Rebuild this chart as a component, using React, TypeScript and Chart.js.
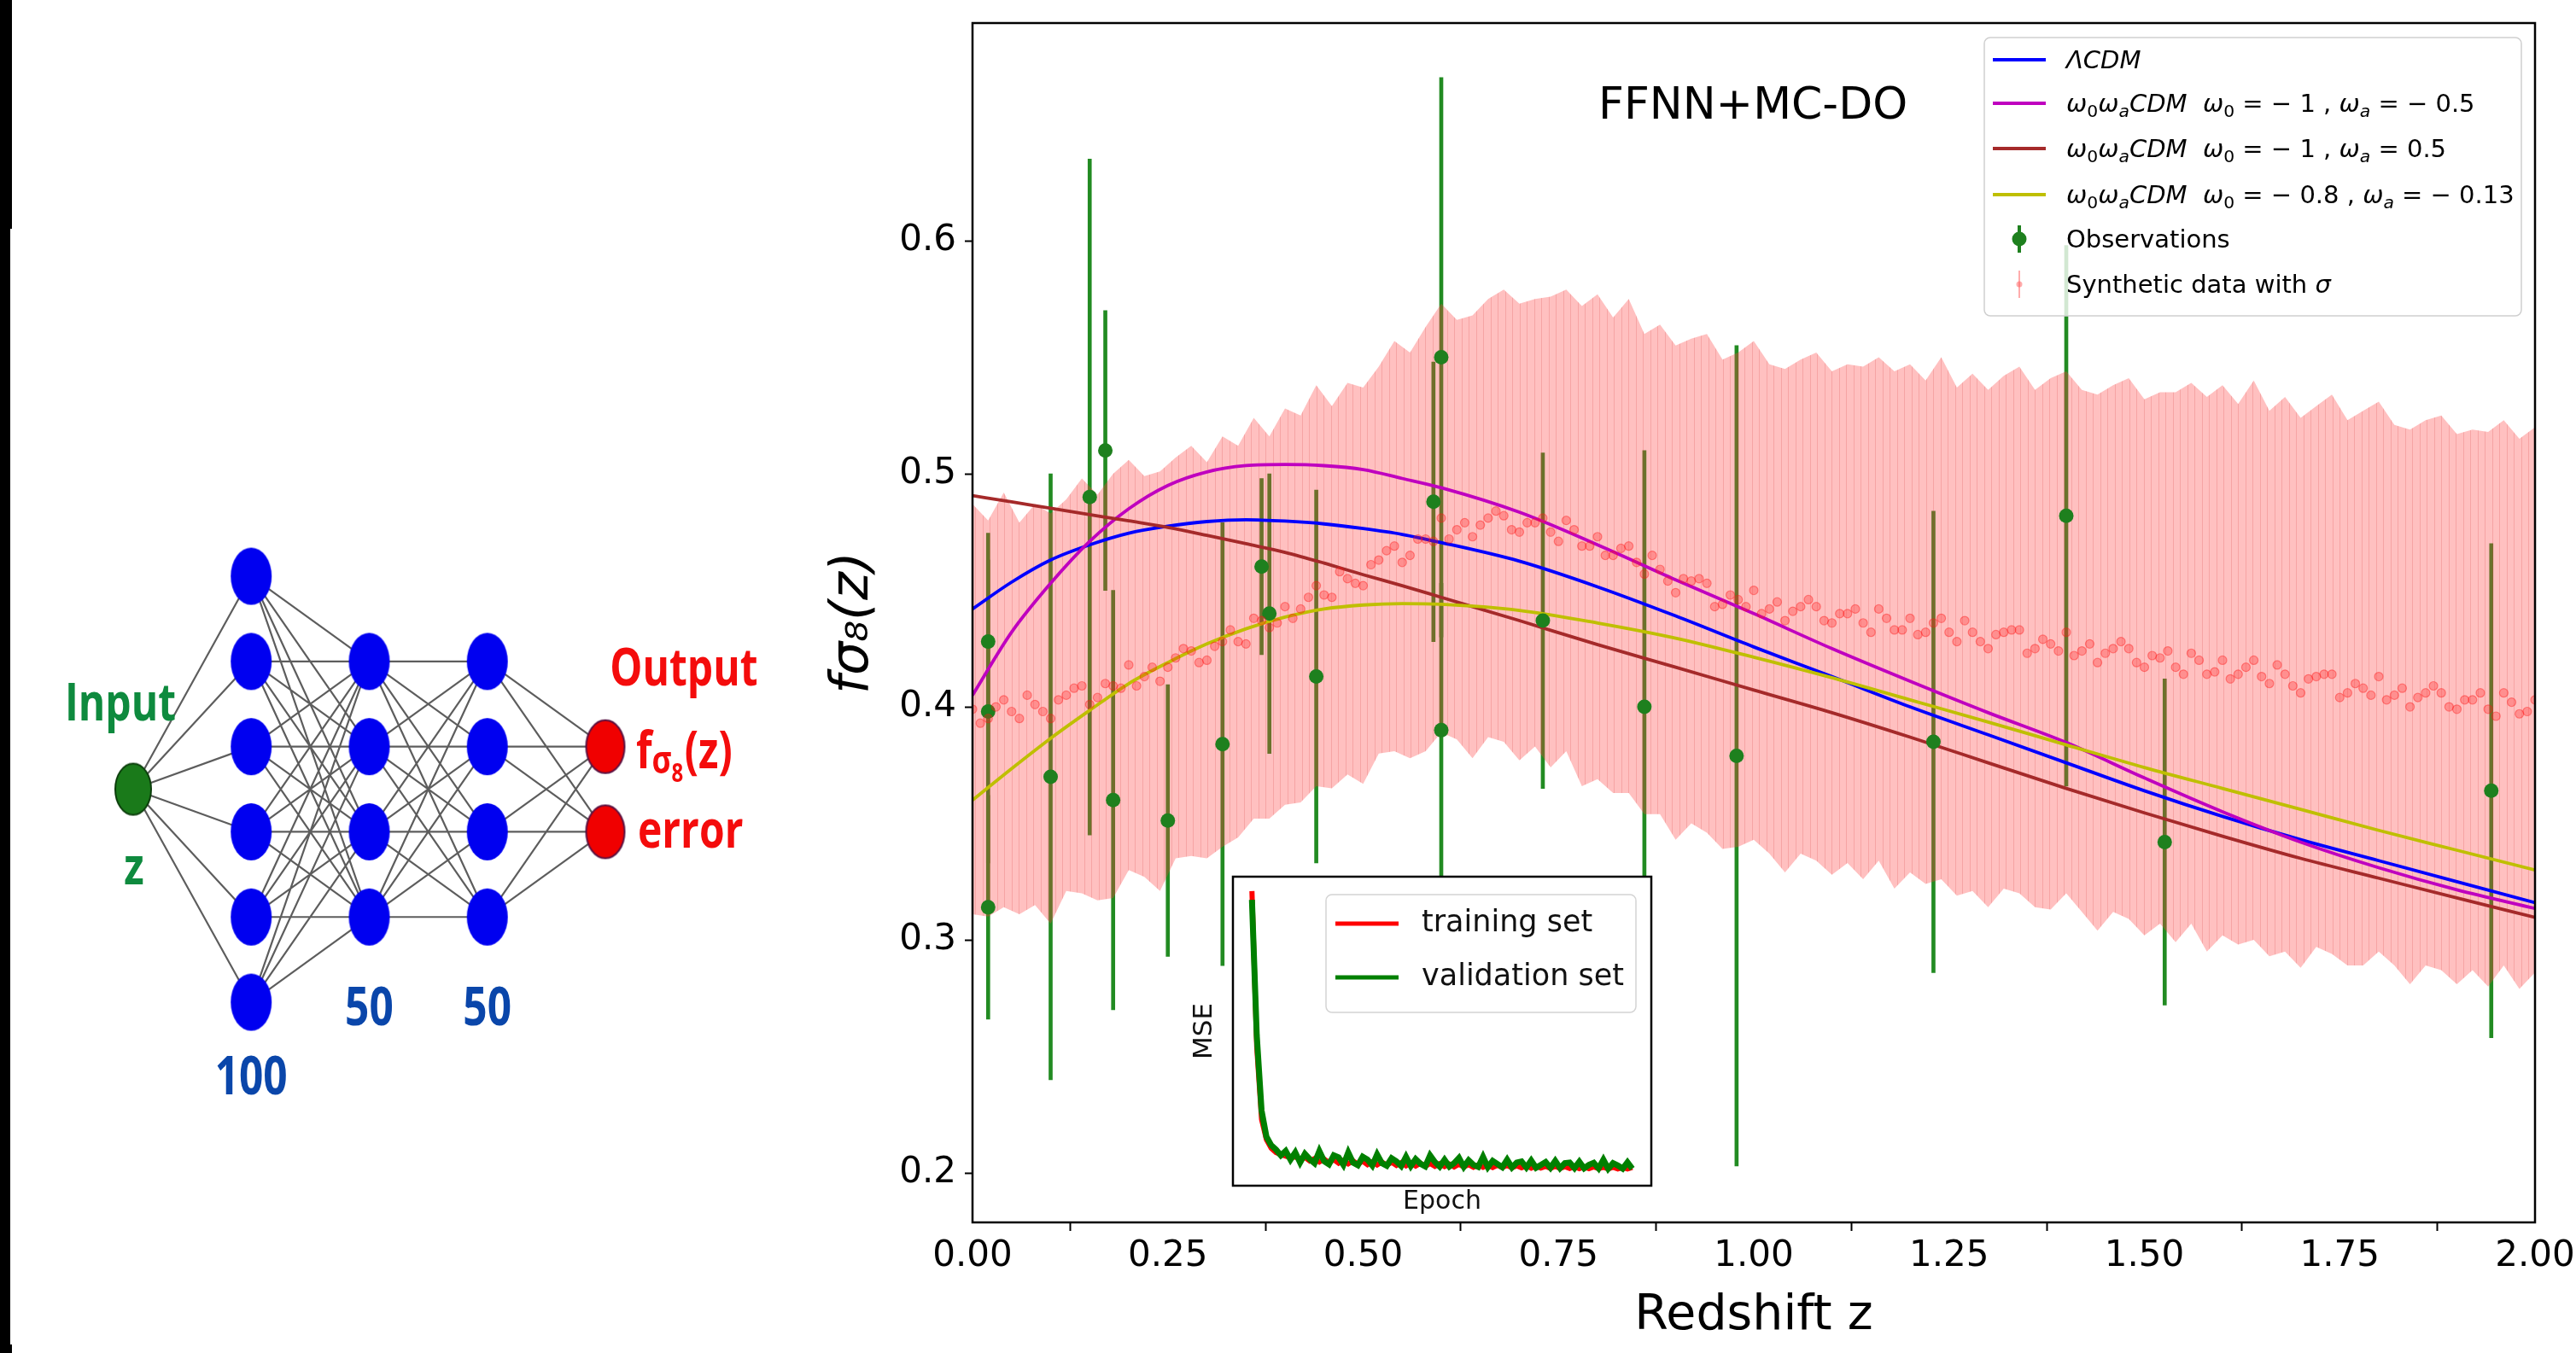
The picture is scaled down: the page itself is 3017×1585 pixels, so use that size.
import React, { useEffect, useRef } from 'react';
import { Chart, registerables } from 'chart.js';

Chart.register(...registerables);

// ---------------- data ----------------
// Observed f sigma8(z) compilation
const OBS_Z = [0.02, 0.02, 0.02, 0.10, 0.15, 0.17, 0.18, 0.25, 0.32, 0.37, 0.38, 0.44, 0.59, 0.60, 0.60, 0.73, 0.86, 0.978, 1.23, 1.40, 1.526, 1.944];
const OBS_F = [0.428, 0.398, 0.314, 0.370, 0.490, 0.510, 0.360, 0.3512, 0.384, 0.4602, 0.440, 0.413, 0.488, 0.550, 0.390, 0.437, 0.400, 0.379, 0.385, 0.482, 0.342, 0.364];
const OBS_ERR = [0.0465, 0.065, 0.048, 0.130, 0.145, 0.060, 0.090, 0.0583, 0.095, 0.0378, 0.060, 0.080, 0.060, 0.120, 0.063, 0.072, 0.110, 0.176, 0.099, 0.116, 0.070, 0.106];

// Theoretical curves
const CURVE_Z = [0, 0.05, 0.1, 0.15, 0.2, 0.25, 0.3, 0.35, 0.4, 0.45, 0.5, 0.55, 0.6, 0.7, 0.8, 0.9, 1.0, 1.1, 1.2, 1.3, 1.4, 1.5, 1.6, 1.7, 1.8, 1.9, 2.0];
const LCDM = [0.442, 0.4535, 0.463, 0.4695, 0.4745, 0.4775, 0.4795, 0.4803, 0.4797, 0.4785, 0.4765, 0.474, 0.4705, 0.4625, 0.4515, 0.439, 0.4257, 0.413, 0.400, 0.388, 0.376, 0.364, 0.353, 0.343, 0.334, 0.325, 0.316];
const W1_M05 = [0.405, 0.432, 0.453, 0.471, 0.485, 0.495, 0.5008, 0.5035, 0.504, 0.5035, 0.5018, 0.498, 0.494, 0.4835, 0.4695, 0.4545, 0.440, 0.425, 0.411, 0.3975, 0.3847, 0.3695, 0.355, 0.342, 0.331, 0.3215, 0.3135];
const W1_P05 = [0.4906, 0.488, 0.4852, 0.4825, 0.4798, 0.477, 0.4736, 0.470, 0.4663, 0.4617, 0.4567, 0.452, 0.447, 0.437, 0.4267, 0.417, 0.4072, 0.3975, 0.387, 0.376, 0.365, 0.3545, 0.3445, 0.335, 0.3265, 0.318, 0.3097];
const W08_M013 = [0.360, 0.3735, 0.3865, 0.3985, 0.410, 0.419, 0.427, 0.4335, 0.4385, 0.442, 0.4437, 0.4443, 0.444, 0.4414, 0.436, 0.4295, 0.4213, 0.4125, 0.403, 0.3935, 0.3837, 0.374, 0.365, 0.356, 0.347, 0.3385, 0.330];

// Synthetic data (FFNN + MC-DO) with sigma
const SYN_Z = [
  0.00, 0.02, 0.04, 0.06, 0.08, 0.10, 0.12, 0.14, 0.16, 0.18,
  0.20, 0.22, 0.24, 0.26, 0.28, 0.30, 0.32, 0.34, 0.36, 0.38,
  0.40, 0.42, 0.44, 0.46, 0.48, 0.50, 0.52, 0.54, 0.56, 0.58,
  0.60, 0.62, 0.64, 0.66, 0.68, 0.70, 0.72, 0.74, 0.76, 0.78,
  0.80, 0.82, 0.84, 0.86, 0.88, 0.90, 0.92, 0.94, 0.96, 0.98,
  1.00, 1.02, 1.04, 1.06, 1.08, 1.10, 1.12, 1.14, 1.16, 1.18,
  1.20, 1.22, 1.24, 1.26, 1.28, 1.30, 1.32, 1.34, 1.36, 1.38,
  1.40, 1.42, 1.44, 1.46, 1.48, 1.50, 1.52, 1.54, 1.56, 1.58,
  1.60, 1.62, 1.64, 1.66, 1.68, 1.70, 1.72, 1.74, 1.76, 1.78,
  1.80, 1.82, 1.84, 1.86, 1.88, 1.90, 1.92, 1.94, 1.96, 1.98,
  2.00,
];
const SYN_MEAN = [
  0.399, 0.395, 0.403, 0.395, 0.401, 0.395, 0.405, 0.409, 0.404, 0.409,
  0.418, 0.413, 0.411, 0.421, 0.424, 0.420, 0.428, 0.428, 0.438, 0.434,
  0.443, 0.442, 0.452, 0.447, 0.455, 0.452, 0.463, 0.469, 0.465, 0.472,
  0.481, 0.476, 0.473, 0.481, 0.482, 0.475, 0.479, 0.475, 0.480, 0.469,
  0.473, 0.465, 0.469, 0.457, 0.459, 0.449, 0.454, 0.453, 0.444, 0.446,
  0.450, 0.442, 0.437, 0.443, 0.443, 0.436, 0.440, 0.436, 0.442, 0.433,
  0.438, 0.432, 0.438, 0.428, 0.432, 0.425, 0.432, 0.433, 0.425, 0.427,
  0.432, 0.424, 0.419, 0.425, 0.425, 0.417, 0.421, 0.417, 0.423, 0.414,
  0.420, 0.414, 0.420, 0.410, 0.414, 0.406, 0.413, 0.414, 0.406, 0.408,
  0.413, 0.405, 0.400, 0.406, 0.406, 0.399, 0.403, 0.399, 0.406, 0.397,
  0.403,
];
const SYN_SIGMA = [
  0.088, 0.085, 0.089, 0.084, 0.086, 0.088, 0.084, 0.089, 0.087, 0.091,
  0.088, 0.086, 0.090, 0.086, 0.088, 0.085, 0.088, 0.084, 0.086, 0.082,
  0.085, 0.083, 0.086, 0.082, 0.084, 0.085, 0.083, 0.088, 0.087, 0.091,
  0.092, 0.090, 0.095, 0.094, 0.097, 0.098, 0.096, 0.101, 0.099, 0.103,
  0.104, 0.102, 0.106, 0.103, 0.105, 0.106, 0.104, 0.107, 0.105, 0.106,
  0.107, 0.105, 0.108, 0.106, 0.109, 0.108, 0.107, 0.110, 0.108, 0.111,
  0.109, 0.108, 0.112, 0.109, 0.111, 0.111, 0.110, 0.113, 0.111, 0.114,
  0.112, 0.112, 0.115, 0.113, 0.116, 0.115, 0.114, 0.118, 0.116, 0.119,
  0.118, 0.116, 0.120, 0.117, 0.119, 0.118, 0.116, 0.120, 0.117, 0.119,
  0.118, 0.116, 0.119, 0.117, 0.119, 0.118, 0.116, 0.119, 0.117, 0.118,
  0.117,
];
// extra synthetic points between the ones above (dots only)
const SYN_Z_MID = [
  0.01, 0.03, 0.05, 0.07, 0.09, 0.11, 0.13, 0.15, 0.17, 0.19,
  0.21, 0.23, 0.25, 0.27, 0.29, 0.31, 0.33, 0.35, 0.37, 0.39,
  0.41, 0.43, 0.45, 0.47, 0.49, 0.51, 0.53, 0.55, 0.57, 0.59,
  0.61, 0.63, 0.65, 0.67, 0.69, 0.71, 0.73, 0.75, 0.77, 0.79,
  0.81, 0.83, 0.85, 0.87, 0.89, 0.91, 0.93, 0.95, 0.97, 0.99,
  1.01, 1.03, 1.05, 1.07, 1.09, 1.11, 1.13, 1.15, 1.17, 1.19,
  1.21, 1.23, 1.25, 1.27, 1.29, 1.31, 1.33, 1.35, 1.37, 1.39,
  1.41, 1.43, 1.45, 1.47, 1.49, 1.51, 1.53, 1.55, 1.57, 1.59,
  1.61, 1.63, 1.65, 1.67, 1.69, 1.71, 1.73, 1.75, 1.77, 1.79,
  1.81, 1.83, 1.85, 1.87, 1.89, 1.91, 1.93, 1.95, 1.97, 1.99,
];
const SYN_MEAN_MID = [
  0.393, 0.400, 0.398, 0.405, 0.398, 0.403, 0.408, 0.401, 0.410, 0.408,
  0.409, 0.417, 0.417, 0.425, 0.419, 0.426, 0.433, 0.427, 0.437, 0.436,
  0.438, 0.447, 0.448, 0.458, 0.453, 0.461, 0.467, 0.462, 0.472, 0.471,
  0.472, 0.479, 0.478, 0.484, 0.476, 0.479, 0.481, 0.471, 0.476, 0.469,
  0.465, 0.468, 0.462, 0.465, 0.454, 0.455, 0.455, 0.443, 0.448, 0.443,
  0.440, 0.445, 0.441, 0.446, 0.437, 0.440, 0.442, 0.432, 0.438, 0.433,
  0.431, 0.436, 0.432, 0.437, 0.428, 0.431, 0.433, 0.423, 0.429, 0.424,
  0.422, 0.427, 0.423, 0.428, 0.419, 0.422, 0.424, 0.414, 0.420, 0.415,
  0.412, 0.417, 0.413, 0.418, 0.409, 0.412, 0.414, 0.404, 0.410, 0.405,
  0.403, 0.408, 0.404, 0.409, 0.400, 0.403, 0.406, 0.396, 0.402, 0.398,
];

// Inset: loss curves per epoch
const MSE_TRAIN = [
  1.00, 0.46, 0.21, 0.14, 0.11, 0.095, 0.088, 0.082, 0.078, 0.080,
  0.072, 0.078, 0.066, 0.074, 0.062, 0.072, 0.060, 0.070, 0.058, 0.068,
  0.056, 0.066, 0.054, 0.065, 0.053, 0.063, 0.052, 0.062, 0.051, 0.061,
  0.050, 0.060, 0.049, 0.059, 0.048, 0.058, 0.047, 0.057, 0.047, 0.056,
  0.046, 0.055, 0.045, 0.054, 0.045, 0.053, 0.044, 0.052, 0.044, 0.051,
  0.043, 0.051, 0.043, 0.050, 0.042, 0.049, 0.042, 0.049, 0.041, 0.048,
  0.041, 0.047, 0.040, 0.047, 0.040, 0.046, 0.040, 0.046, 0.039, 0.045,
  0.039, 0.045, 0.039, 0.044, 0.038, 0.044, 0.038, 0.043, 0.038, 0.043,
];
const MSE_VALID = [
  0.97, 0.50, 0.24, 0.15, 0.12, 0.105, 0.085, 0.10, 0.07, 0.095,
  0.060, 0.090, 0.072, 0.058, 0.100, 0.065, 0.054, 0.085, 0.078, 0.052,
  0.095, 0.060, 0.051, 0.080, 0.070, 0.050, 0.088, 0.058, 0.049, 0.075,
  0.064, 0.048, 0.080, 0.048, 0.072, 0.056, 0.047, 0.085, 0.062, 0.046,
  0.070, 0.046, 0.058, 0.076, 0.045, 0.068, 0.052, 0.045, 0.080, 0.044,
  0.066, 0.055, 0.044, 0.070, 0.043, 0.060, 0.064, 0.043, 0.067, 0.042,
  0.052, 0.062, 0.042, 0.066, 0.041, 0.058, 0.060, 0.041, 0.063, 0.040,
  0.052, 0.059, 0.040, 0.070, 0.039, 0.058, 0.050, 0.039, 0.061, 0.039,
];

// Network diagram: node slots per layer (input, 100, 50, 50, output)
const NET_LAYERS = [
  [2.5],
  [0, 1, 2, 3, 4, 5],
  [1, 2, 3, 4],
  [1, 2, 3, 4],
  [2, 3],
];
const NET_SIZES = ['100', '50', '50'];

// ---------------- helpers ----------------
const FONT = "'DejaVu Sans', sans-serif";
const NET_FONT = "'Open Sans', 'DejaVu Sans', sans-serif";

type Seg = { t: string; it?: boolean; sub?: boolean };

function drawRich(ctx: any, segs: Seg[], x: number, y: number, size: number) {
  let cx = x;
  for (const s of segs) {
    const fs = s.sub ? size * 0.7 : size;
    ctx.font = `${s.it ? 'italic ' : ''}${fs}px ${FONT}`;
    ctx.fillText(s.t, cx, s.sub ? y + size * 0.2 : y);
    cx += ctx.measureText(s.t).width;
  }
  return cx;
}

const WW: Seg[] = [
  { t: 'ω', it: true }, { t: '0', sub: true }, { t: 'ω', it: true }, { t: 'a', it: true, sub: true }, { t: 'CDM', it: true }, { t: '  ' },
];
const W0: Seg[] = [{ t: 'ω', it: true }, { t: '0', sub: true }];
const WA: Seg[] = [{ t: 'ω', it: true }, { t: 'a', it: true, sub: true }];

const LEGEND_ROWS: { kind: string; color: string; segs: Seg[] }[] = [
  { kind: 'line', color: '#0000ff', segs: [{ t: 'ΛCDM', it: true }] },
  { kind: 'line', color: '#bf00bf', segs: [...WW, ...W0, { t: ' = − 1 , ' }, ...WA, { t: ' = − 0.5' }] },
  { kind: 'line', color: '#a52a2a', segs: [...WW, ...W0, { t: ' = − 1 , ' }, ...WA, { t: ' = 0.5' }] },
  { kind: 'line', color: '#bfbf00', segs: [...WW, ...W0, { t: ' = − 0.8 , ' }, ...WA, { t: ' = − 0.13' }] },
  { kind: 'obs', color: 'rgb(30,128,30)', segs: [{ t: 'Observations' }] },
  { kind: 'syn', color: 'rgba(255,90,90,0.5)', segs: [{ t: 'Synthetic data with ' }, { t: 'σ', it: true }] },
];

function ellipseImg(w: number, h: number, fill: string, stroke?: string) {
  const c = document.createElement('canvas');
  c.width = w + 4;
  c.height = h + 4;
  const g = c.getContext('2d')!;
  g.beginPath();
  g.ellipse(c.width / 2, c.height / 2, w / 2, h / 2, 0, 0, Math.PI * 2);
  g.fillStyle = fill;
  g.fill();
  if (stroke) {
    g.lineWidth = 2;
    g.strokeStyle = stroke;
    g.stroke();
  }
  return c;
}

const pts = (xs: number[], ys: number[]) => xs.map((x, i) => ({ x, y: ys[i] }));

// ---------------- main chart ----------------
function MainChart() {
  const ref = useRef<HTMLCanvasElement>(null);
  useEffect(() => {
    const canvas = ref.current;
    if (!canvas) return;
    const tile = document.createElement('canvas');
    tile.width = 17;
    tile.height = 2;
    const tg = tile.getContext('2d')!;
    tg.fillStyle = 'rgba(255,64,64,0.33)';
    tg.fillRect(0, 0, 17, 2);
    tg.clearRect(0, 0, 1, 2);
    tg.clearRect(8, 0, 1, 2);
    tg.fillStyle = 'rgba(236,56,56,0.46)';
    tg.fillRect(0, 0, 1, 2);
    tg.fillRect(8, 0, 1, 2);
    const bandFill = canvas.getContext('2d')!.createPattern(tile, 'repeat');

    const obsBars = OBS_Z.map((z, i) => ({ x: z, y: [OBS_F[i] - OBS_ERR[i], OBS_F[i] + OBS_ERR[i]] }));
    const synUp = SYN_Z.map((z, i) => ({ x: z, y: SYN_MEAN[i] + SYN_SIGMA[i] }));
    const synLo = SYN_Z.map((z, i) => ({ x: z, y: SYN_MEAN[i] - SYN_SIGMA[i] }));
    const synDots = [...pts(SYN_Z, SYN_MEAN), ...pts(SYN_Z_MID, SYN_MEAN_MID)];
    const curveDs = (ys: number[], color: string, order: number) => ({
      type: 'line', data: pts(CURVE_Z, ys), borderColor: color, borderWidth: 3.8, pointRadius: 0,
      fill: false, cubicInterpolationMode: 'monotone', order,
    });

    const decor = {
      id: 'mainDecor',
      afterDatasetsDraw(chart: any) {
        const { ctx, chartArea: a } = chart;
        ctx.save();
        ctx.strokeStyle = '#000';
        ctx.lineWidth = 2.5;
        ctx.strokeRect(a.left, a.top, a.right - a.left, a.bottom - a.top);
        ctx.fillStyle = '#000';
        ctx.font = `52px ${FONT}`;
        ctx.textAlign = 'left';
        ctx.textBaseline = 'middle';
        ctx.fillText('FFNN+MC-DO', a.left + 733, 125);
        ctx.restore();
      },
      afterDraw(chart: any) {
        const { ctx, chartArea: a } = chart;
        const L = a.left + 1185, T = 44, R = a.left + 1814, B = 370;
        ctx.save();
        ctx.beginPath();
        ctx.roundRect(L, T, R - L, B - T, 7);
        ctx.fillStyle = 'rgba(255,255,255,0.8)';
        ctx.fill();
        ctx.strokeStyle = '#cfcfcf';
        ctx.lineWidth = 1.5;
        ctx.stroke();
        const rowsY = [70, 121, 174, 228, 280, 333];
        const hx0 = L + 10, hx1 = L + 72, hc = (hx0 + hx1) / 2;
        LEGEND_ROWS.forEach((row, i) => {
          const y = rowsY[i];
          if (row.kind === 'line') {
            ctx.strokeStyle = row.color;
            ctx.lineWidth = 3.8;
            ctx.beginPath();
            ctx.moveTo(hx0, y);
            ctx.lineTo(hx1, y);
            ctx.stroke();
          } else if (row.kind === 'obs') {
            ctx.strokeStyle = row.color;
            ctx.lineWidth = 4;
            ctx.beginPath();
            ctx.moveTo(hc, y - 16);
            ctx.lineTo(hc, y + 16);
            ctx.stroke();
            ctx.fillStyle = row.color;
            ctx.beginPath();
            ctx.arc(hc, y, 8.5, 0, Math.PI * 2);
            ctx.fill();
          } else {
            ctx.strokeStyle = row.color;
            ctx.lineWidth = 2;
            ctx.beginPath();
            ctx.moveTo(hc, y - 16);
            ctx.lineTo(hc, y + 16);
            ctx.stroke();
            ctx.fillStyle = row.color;
            ctx.beginPath();
            ctx.arc(hc, y, 3.5, 0, Math.PI * 2);
            ctx.fill();
          }
          ctx.fillStyle = '#000';
          ctx.textAlign = 'left';
          ctx.textBaseline = 'alphabetic';
          drawRich(ctx, row.segs, L + 96, y + 10, 29);
        });
        ctx.restore();
      },
    };

    const chart = new Chart(canvas, {
      type: 'scatter',
      data: {
        datasets: [
          { type: 'bar', label: 'obs-err', data: obsBars, backgroundColor: 'rgb(34,139,34)', barThickness: 4, grouped: false, order: 9 } as any,
          { type: 'line', label: 'syn-up', data: synUp, borderColor: 'rgba(0,0,0,0)', borderWidth: 0, pointRadius: 0, fill: false, order: 8 },
          { type: 'line', label: 'syn-lo', data: synLo, borderColor: 'rgba(0,0,0,0)', borderWidth: 0, pointRadius: 0, fill: '-1', backgroundColor: bandFill, order: 8 },
          curveDs(LCDM, '#0000ff', 7),
          curveDs(W1_M05, '#bf00bf', 6),
          curveDs(W1_P05, '#a52a2a', 5),
          curveDs(W08_M013, '#bfbf00', 4),
          { type: 'scatter', label: 'obs', data: pts(OBS_Z, OBS_F), backgroundColor: 'rgb(30,128,30)', borderWidth: 0, pointRadius: 8.5, order: 2 },
          { type: 'scatter', label: 'syn', data: synDots, backgroundColor: 'rgba(255,30,30,0.3)', borderColor: 'rgba(255,20,20,0.4)', borderWidth: 1.2, pointRadius: 5, order: 1 },
        ] as any,
      },
      options: {
        animation: false,
        responsive: false,
        devicePixelRatio: 1,
        events: [],
        layout: { padding: { left: 0, top: 27, right: 48, bottom: 0 }, autoPadding: false },
        plugins: { legend: { display: false }, tooltip: { enabled: false } },
        scales: {
          x: {
            type: 'linear', min: 0, max: 2, offset: false,
            afterFit: (s: any) => { s.height = 153; s.paddingLeft = 0; s.paddingRight = 0; },
            grid: { display: true, drawOnChartArea: false, drawTicks: true, tickLength: 10, tickWidth: 2, tickColor: '#000', color: '#000' },
            border: { display: false },
            ticks: { stepSize: 0.25, autoSkip: false, maxRotation: 0, padding: 5, color: '#000', font: { family: FONT, size: 42 }, callback: (v: any) => Number(v).toFixed(2) },
            title: { display: true, text: 'Redshift z', color: '#000', font: { family: FONT, size: 57 }, padding: { top: 0, bottom: 9 } },
          },
          y: {
            type: 'linear', min: 0.1788, max: 0.6934,
            afterFit: (s: any) => { s.width = 209; s.paddingTop = 0; s.paddingBottom = 0; },
            grid: { display: true, drawOnChartArea: false, drawTicks: true, tickLength: 9, tickWidth: 2, tickColor: '#000', color: '#000' },
            border: { display: false },
            ticks: { stepSize: 0.1, includeBounds: false, padding: 10, color: '#000', font: { family: FONT, size: 42 }, callback: (v: any) => Number(v).toFixed(1) },
            title: { display: true, text: 'fσ₈(z)', color: '#000', font: { family: FONT, size: 62, style: 'italic' }, padding: { top: 33, bottom: 0 } },
          },
        },
      } as any,
      plugins: [decor],
    });
    return () => chart.destroy();
  }, []);
  return <canvas ref={ref} width={2087} height={1585} style={{ position: 'absolute', left: 930, top: 0 }} />;
}

// ---------------- inset chart ----------------
function InsetChart() {
  const ref = useRef<HTMLCanvasElement>(null);
  useEffect(() => {
    const canvas = ref.current;
    if (!canvas) return;
    const epochs = MSE_TRAIN.map((_, i) => i);
    const decor = {
      id: 'insetDecor',
      beforeDatasetsDraw(chart: any) {
        const { ctx, chartArea: a } = chart;
        ctx.save();
        ctx.fillStyle = '#fff';
        ctx.fillRect(a.left, a.top, a.right - a.left, a.bottom - a.top);
        ctx.restore();
      },
      afterDatasetsDraw(chart: any) {
        const { ctx, chartArea: a } = chart;
        ctx.save();
        ctx.strokeStyle = '#000';
        ctx.lineWidth = 2.5;
        ctx.strokeRect(a.left, a.top, a.right - a.left, a.bottom - a.top);
        const L = a.left + 109, T = a.top + 21, R = a.left + 472, B = a.top + 159;
        ctx.beginPath();
        ctx.roundRect(L, T, R - L, B - T, 7);
        ctx.fillStyle = 'rgba(255,255,255,0.8)';
        ctx.fill();
        ctx.strokeStyle = '#d4d4d4';
        ctx.lineWidth = 1.5;
        ctx.stroke();
        const rows = [
          { y: a.top + 55, color: '#ff0000', text: 'training set' },
          { y: a.top + 118, color: '#008000', text: 'validation set' },
        ];
        for (const r of rows) {
          ctx.strokeStyle = r.color;
          ctx.lineWidth = 5;
          ctx.beginPath();
          ctx.moveTo(L + 11, r.y);
          ctx.lineTo(L + 85, r.y);
          ctx.stroke();
          ctx.fillStyle = '#111';
          ctx.font = `35px ${FONT}`;
          ctx.textAlign = 'left';
          ctx.textBaseline = 'middle';
          ctx.fillText(r.text, L + 112, r.y);
        }
        ctx.restore();
      },
    };
    const chart = new Chart(canvas, {
      type: 'line',
      data: {
        datasets: [
          { label: 'training set', data: pts(epochs, MSE_TRAIN), borderColor: '#ff0000', borderWidth: 6, pointRadius: 0, order: 2 },
          { label: 'validation set', data: pts(epochs, MSE_VALID), borderColor: '#008000', borderWidth: 7, pointRadius: 0, order: 1 },
        ],
      },
      options: {
        animation: false,
        responsive: false,
        devicePixelRatio: 1,
        events: [],
        layout: { padding: { left: 0, top: 17, right: 16, bottom: 0 }, autoPadding: false },
        plugins: { legend: { display: false }, tooltip: { enabled: false } },
        scales: {
          x: {
            type: 'linear', min: -3.95, max: 82.95,
            afterFit: (s: any) => { s.height = 61; },
            ticks: { display: false }, grid: { display: false }, border: { display: false },
            title: { display: true, text: 'Epoch', color: '#111', font: { family: FONT, size: 30 }, padding: { top: 0, bottom: 24 } },
          },
          y: {
            type: 'linear', min: -0.02, max: 1.05,
            afterFit: (s: any) => { s.width = 64; },
            ticks: { display: false }, grid: { display: false }, border: { display: false },
            title: { display: true, text: 'MSE', color: '#111', font: { family: FONT, size: 31 }, padding: { top: 12, bottom: 0 } },
          },
        },
      } as any,
      plugins: [decor],
    });
    return () => chart.destroy();
  }, []);
  return <canvas ref={ref} width={570} height={440} style={{ position: 'absolute', left: 1380, top: 1010 }} />;
}

// ---------------- network diagram ----------------
function NetworkChart() {
  const ref = useRef<HTMLCanvasElement>(null);
  useEffect(() => {
    const canvas = ref.current;
    if (!canvas) return;
    const blue = ellipseImg(48, 67, '#0000f0');
    const green = ellipseImg(42, 60, '#1a7a1a', '#0b3d0b');
    const red = ellipseImg(45, 62, '#f00000', '#5a1040');
    const edges: any[] = [];
    for (let k = 0; k < NET_LAYERS.length - 1; k++) {
      for (const a of NET_LAYERS[k]) {
        for (const b of NET_LAYERS[k + 1]) {
          edges.push({ x: k, y: a }, { x: k + 1, y: b }, { x: k + 0.5, y: null });
        }
      }
    }
    const nodes = (k: number) => NET_LAYERS[k].map((s) => ({ x: k, y: s }));
    const GREEN = '#0e8a3e', BLUE = '#0a46aa', RED = '#f40c0c';
    const labels = {
      id: 'netLabels',
      afterDatasetsDraw(chart: any) {
        const { ctx, scales } = chart;
        const X = (v: number) => scales.x.getPixelForValue(v);
        const Y = (v: number) => scales.y.getPixelForValue(v);
        const put = (text: string, x: number, y: number, color: string, align: string, size = 60) => {
          ctx.save();
          ctx.translate(x, y);
          ctx.scale(0.8, 1);
          ctx.font = `bold ${size}px ${NET_FONT}`;
          ctx.fillStyle = color;
          ctx.textAlign = align;
          ctx.textBaseline = 'alphabetic';
          ctx.fillText(text, 0, 0);
          ctx.restore();
        };
        put('Input', X(-0.108), Y(1.693), GREEN, 'center');
        put('z', X(0.007), Y(3.617), GREEN, 'center');
        NET_SIZES.forEach((t, i) => {
          put(t, X(1 + i), Y(i === 0 ? 6.082 : 5.27), BLUE, 'center', 62);
        });
        put('Output', X(4.665), Y(1.283), RED, 'center');
        put('error', X(4.275), Y(3.186), RED, 'left');
        // f sigma_8 (z)
        ctx.save();
        ctx.translate(X(4.26), Y(2.255));
        ctx.scale(0.8, 1);
        ctx.fillStyle = RED;
        ctx.textAlign = 'left';
        ctx.textBaseline = 'alphabetic';
        let cx = 0;
        ctx.font = `bold 60px ${NET_FONT}`;
        ctx.fillText('f', cx, 0);
        cx += ctx.measureText('f').width;
        ctx.font = `bold 44px ${NET_FONT}`;
        ctx.fillText('σ', cx, 6);
        cx += ctx.measureText('σ').width;
        ctx.font = `bold 30px ${NET_FONT}`;
        ctx.fillText('8', cx, 16);
        cx += ctx.measureText('8').width + 2;
        ctx.font = `bold 60px ${NET_FONT}`;
        ctx.fillText('(z)', cx, 0);
        ctx.restore();
      },
    };
    const chart = new Chart(canvas, {
      type: 'scatter',
      data: {
        datasets: [
          { type: 'line', data: edges, borderColor: 'rgba(75,75,75,0.9)', borderWidth: 2.2, pointRadius: 0, spanGaps: false, order: 3 },
          { type: 'scatter', data: nodes(0), pointStyle: green, pointRadius: 25, order: 1 },
          { type: 'scatter', data: [...nodes(1), ...nodes(2), ...nodes(3)], pointStyle: blue, pointRadius: 30, order: 1 },
          { type: 'scatter', data: nodes(4), pointStyle: red, pointRadius: 28, order: 1 },
        ] as any,
      },
      options: {
        animation: false,
        responsive: false,
        devicePixelRatio: 1,
        events: [],
        layout: { padding: 0, autoPadding: false },
        plugins: { legend: { display: false }, tooltip: { enabled: false } },
        scales: {
          x: { type: 'linear', display: false, min: -1.128, max: 5.599 },
          y: { type: 'linear', display: false, min: -6.764, max: 9.118, reverse: true },
        },
      } as any,
      plugins: [labels],
    });
    return () => chart.destroy();
  }, []);
  return <canvas ref={ref} width={930} height={1585} style={{ position: 'absolute', left: 0, top: 0 }} />;
}

export default function App() {
  return (
    <div style={{ position: 'absolute', left: 0, top: 0, width: 3017, height: 1585, background: '#fff', overflow: 'hidden' }}>
      <NetworkChart />
      <MainChart />
      <InsetChart />
      <div style={{ position: 'absolute', left: 0, top: 0, width: 12, height: 1585, background: '#000' }} />
      <div style={{ position: 'absolute', left: 0, top: 0, width: 14, height: 268, background: '#000' }} />
      <div style={{ position: 'absolute', left: 0, top: 1575, width: 14, height: 10, background: '#000' }} />
    </div>
  );
}
